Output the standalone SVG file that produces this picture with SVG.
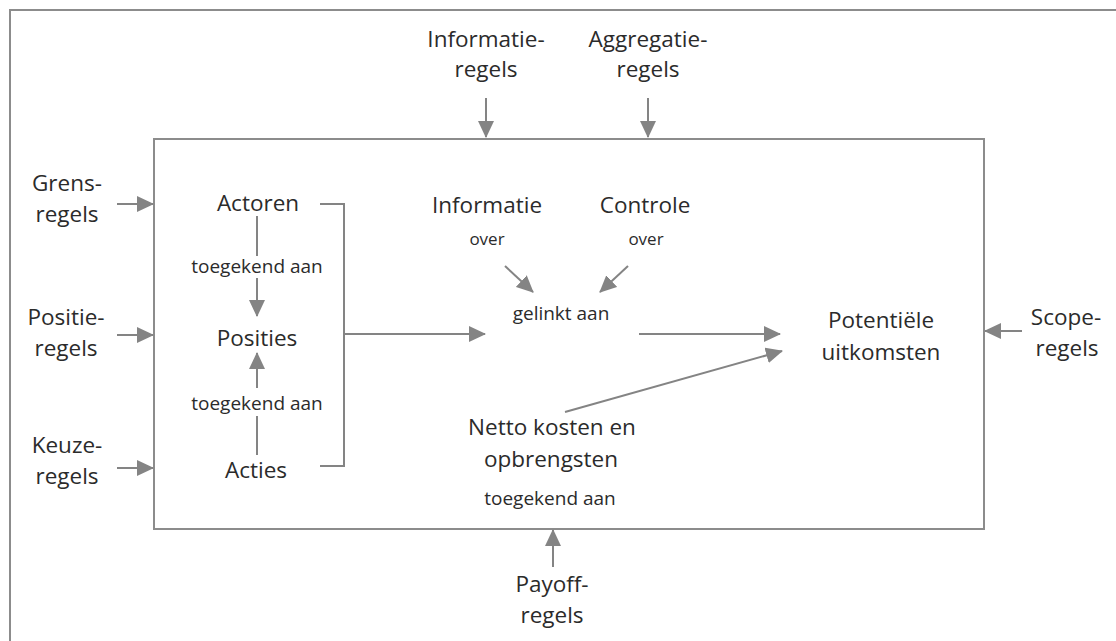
<svg xmlns="http://www.w3.org/2000/svg" width="1116" height="641" viewBox="0 0 1116 641">
<style>
  text { font-family: "Open Sans", "Noto Sans", "Liberation Sans", sans-serif; fill: #2b2b2b; text-anchor: middle; }
  .m { font-size: 22.5px; }
  .s { font-size: 19px; }
  .o { font-size: 17px; }
  .frame { fill: none; stroke: #8c8c8c; stroke-width: 2; }
  .ln { fill: none; stroke: #848484; stroke-width: 2; }
  .ar { fill: none; stroke: #848484; stroke-width: 2; marker-end: url(#ah); }
</style>
<defs>
  <marker id="ah" markerUnits="userSpaceOnUse" markerWidth="18" markerHeight="16" refX="16" refY="8" orient="auto">
    <path d="M0,0 L17,8 L0,16 Z" fill="#848484"/>
  </marker>
</defs>
<rect width="1116" height="641" fill="#fff"/>
<rect id="outer" class="frame" x="10" y="10" width="1200" height="700"/>
<rect id="system" class="frame" x="154" y="139" width="830" height="390"/>

<g id="connectors">
  <line class="ar" x1="486" y1="98" x2="486" y2="137"/>
  <line class="ar" x1="648" y1="98" x2="648" y2="137"/>
  <line class="ar" x1="117" y1="204" x2="153" y2="204"/>
  <line class="ar" x1="117" y1="335" x2="153" y2="335"/>
  <line class="ar" x1="117" y1="468" x2="153" y2="468"/>
  <line class="ln" x1="257" y1="216" x2="257" y2="256"/>
  <line class="ar" x1="257" y1="278" x2="257" y2="316"/>
  <line class="ln" x1="257" y1="416" x2="257" y2="455"/>
  <line class="ar" x1="257" y1="388" x2="257" y2="353"/>
  <polyline class="ln" points="320,204 344,204 344,466 320,466"/>
  <line class="ar" x1="344" y1="334" x2="485" y2="334"/>
  <line class="ar" x1="505" y1="266" x2="533" y2="292"/>
  <line class="ar" x1="628" y1="266" x2="600" y2="292"/>
  <line class="ar" x1="639" y1="334" x2="780" y2="334"/>
  <line class="ar" x1="565" y1="412" x2="782" y2="351"/>
  <line class="ar" x1="1022" y1="331" x2="985" y2="331"/>
  <line class="ar" x1="553" y1="567" x2="553" y2="530"/>
</g>

<g id="informatieregels"><text class="m" x="486" y="47">Informatie-</text><text class="m" x="486" y="77">regels</text></g>
<g id="aggregatieregels"><text class="m" x="648" y="47">Aggregatie-</text><text class="m" x="648" y="77">regels</text></g>
<g id="grensregels"><text class="m" x="67" y="191">Grens-</text><text class="m" x="67" y="222">regels</text></g>
<g id="positieregels"><text class="m" x="66" y="325">Positie-</text><text class="m" x="66" y="356">regels</text></g>
<g id="keuzeregels"><text class="m" x="67" y="453">Keuze-</text><text class="m" x="67" y="484">regels</text></g>
<g id="scoperegels"><text class="m" x="1066" y="325">Scope-</text><text class="m" x="1067" y="356">regels</text></g>
<g id="payoffregels"><text class="m" x="552" y="592">Payoff-</text><text class="m" x="552" y="623">regels</text></g>

<g id="actoren"><text class="m" x="258" y="211">Actoren</text></g>
<g id="label-toegekend-1"><text class="s" x="257" y="273">toegekend aan</text></g>
<g id="posities"><text class="m" x="257" y="346">Posities</text></g>
<g id="label-toegekend-2"><text class="s" x="257" y="410">toegekend aan</text></g>
<g id="acties"><text class="m" x="256" y="478">Acties</text></g>

<g id="informatie"><text class="m" x="487" y="213">Informatie</text><text class="o" x="487" y="245">over</text></g>
<g id="controle"><text class="m" x="645" y="213">Controle</text><text class="o" x="646" y="245">over</text></g>
<g id="gelinkt"><text class="s" x="561" y="320">gelinkt aan</text></g>
<g id="potentiele"><text class="m" x="881" y="328">Potentiële</text><text class="m" x="881" y="360">uitkomsten</text></g>
<g id="netto"><text class="m" x="552" y="435">Netto kosten en</text><text class="m" x="551" y="467">opbrengsten</text><text class="s" x="550" y="505">toegekend aan</text></g>
</svg>
